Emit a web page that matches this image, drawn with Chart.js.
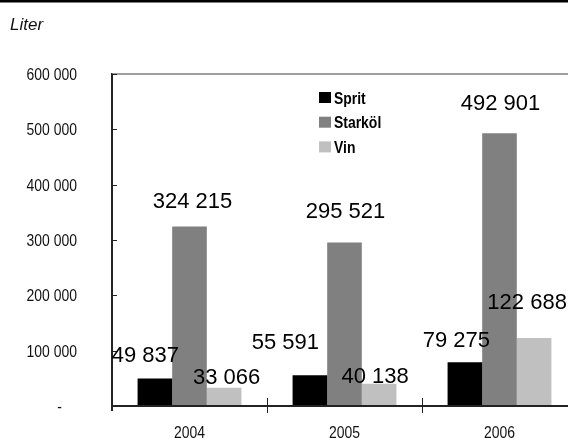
<!DOCTYPE html>
<html>
<head>
<meta charset="utf-8">
<script src="https://cdn.jsdelivr.net/npm/chart.js@4/dist/chart.umd.min.js"></script>
<style>
  html, body { margin: 0; padding: 0; background: #fff; overflow: hidden; }
  canvas { display: block; }
</style>
</head>
<body>
<canvas id="c" width="568" height="438"></canvas>
<script>
// Sales volume in litres per product group and year
const years = ['2004', '2005', '2006'];
const sprit = [49837, 55591, 79275];
const starkol = [324215, 295521, 492901];
const vin = [33066, 40138, 122688];
const seriesNames = ['Sprit', 'Starköl', 'Vin'];
const seriesColors = ['#000000', '#808080', '#c0c0c0'];
const unitLabel = 'Liter';

// Hand-placed value label offsets (px from the top centre of each bar), per series then year
const labelOffsets = [
  [[-9.5, -24], [-24.5, -34.5], [-8.5, -23]],
  [[3, -27], [1, -32.5], [1, -31]],
  [[2.5, -11.5], [-4, -8.5], [-7, -37]]
];

const REGULAR = "'Liberation Sans', Arial, sans-serif";
const NARROW_X = 0.82;      // horizontal squeeze giving a narrow grotesque look
const CATEGORY_WIDTH = 155; // plot runs past the right edge of the page

function spaced(v) {
  return String(Math.round(v)).replace(/\B(?=(\d{3})+(?!\d))/g, ' ');
}

// draw text compressed horizontally, anchored at (x, y)
function narrowText(ctx, text, x, y, align) {
  ctx.save();
  ctx.translate(x, y);
  ctx.scale(NARROW_X, 1);
  ctx.textAlign = align;
  ctx.fillText(text, 0, 0);
  ctx.restore();
}

// widen the plot area so the last category continues beyond the canvas edge
const widen = {
  id: 'widen',
  afterLayout(chart) {
    const x = chart.scales.x;
    const right = x.left + CATEGORY_WIDTH * years.length;
    x.right = right;
    x.width = right - x.left;
    x.configure();
    chart.chartArea.right = right;
    chart.chartArea.width = right - chart.chartArea.left;
  }
};

const decor = {
  id: 'decor',
  beforeDraw(chart) {
    const ctx = chart.ctx;
    ctx.save();
    // heavy rule at the top of the page
    ctx.fillStyle = '#000';
    ctx.fillRect(0, 0, chart.width, 2.5);
    // unit caption
    ctx.font = 'italic 17px ' + REGULAR;
    ctx.fillStyle = '#111';
    ctx.textBaseline = 'alphabetic';
    ctx.textAlign = 'left';
    ctx.fillText(unitLabel, 10, 30);
    ctx.restore();
  },
  afterDraw(chart) {
    const ctx = chart.ctx;
    const a = chart.chartArea;
    const x = chart.scales.x, y = chart.scales.y;
    ctx.save();
    // top frame line
    ctx.strokeStyle = '#808080';
    ctx.lineWidth = 1.5;
    ctx.beginPath();
    ctx.moveTo(a.left, a.top);
    ctx.lineTo(a.right, a.top);
    ctx.stroke();
    // x axis line across the full plot width
    ctx.strokeStyle = '#222';
    ctx.lineWidth = 2;
    ctx.beginPath();
    ctx.moveTo(a.left, a.bottom);
    ctx.lineTo(a.right, a.bottom);
    ctx.stroke();
    // inward tick marks on the value axis
    ctx.lineWidth = 1;
    y.ticks.forEach(t => {
      const py = Math.round(y.getPixelForValue(t.value)) + 0.5;
      ctx.beginPath();
      ctx.moveTo(a.left, py);
      ctx.lineTo(a.left + 5, py);
      ctx.stroke();
    });
    // value axis runs a little past the baseline
    ctx.lineWidth = 2;
    ctx.beginPath();
    ctx.moveTo(a.left, a.bottom);
    ctx.lineTo(a.left, a.bottom + 5);
    ctx.stroke();
    // crossing tick marks between categories
    ctx.lineWidth = 1;
    for (let i = 0; i < years.length; i++) {
      const bx = Math.round((x.getPixelForValue(i) + x.getPixelForValue(i + 1)) / 2) + 0.5;
      ctx.beginPath();
      ctx.moveTo(bx, a.bottom - 8);
      ctx.lineTo(bx, a.bottom + 7);
      ctx.stroke();
    }

    // value axis labels
    ctx.fillStyle = '#111';
    ctx.font = '17px ' + REGULAR;
    ctx.textBaseline = 'alphabetic';
    y.ticks.forEach(t => {
      const py = y.getPixelForValue(t.value);
      const txt = t.value === 0 ? '-' : spaced(t.value);
      const rx = t.value === 0 ? 62 : 77;
      narrowText(ctx, txt, rx, py + 6, 'right');
    });
    // category labels
    years.forEach((lab, i) => {
      narrowText(ctx, lab, x.getPixelForValue(i), a.bottom + 32, 'center');
    });

    // value labels
    ctx.font = '22px ' + REGULAR;
    ctx.fillStyle = '#000';
    ctx.textAlign = 'center';
    chart.data.datasets.forEach((ds, di) => {
      const meta = chart.getDatasetMeta(di);
      meta.data.forEach((bar, i) => {
        const off = labelOffsets[di][i];
        ctx.fillText(spaced(ds.data[i]), bar.x + off[0], bar.y + off[1] + 8);
      });
    });

    // legend
    ctx.font = 'bold 17px ' + REGULAR;
    chart.data.datasets.forEach((ds, di) => {
      const cy = 97.5 + di * 24.7;
      ctx.fillStyle = ds.backgroundColor;
      ctx.fillRect(319, cy - 5.5, 12, 11);
      ctx.fillStyle = '#000';
      narrowText(ctx, ds.label, 334, cy + 6, 'left');
    });
    ctx.restore();
  }
};

const datasets = [sprit, starkol, vin].map((vals, i) => ({
  label: seriesNames[i],
  data: vals,
  backgroundColor: seriesColors[i],
  borderWidth: 0,
  categoryPercentage: 0.67,
  barPercentage: 1.0
}));

new Chart(document.getElementById('c'), {
  type: 'bar',
  data: { labels: years, datasets },
  options: {
    responsive: false,
    maintainAspectRatio: false,
    devicePixelRatio: 1,
    animation: false,
    layout: { padding: { top: 74, right: 0, left: 0, bottom: 0 } },
    plugins: { legend: { display: false }, tooltip: { enabled: false } },
    scales: {
      x: {
        grid: { display: false },
        border: { display: false },
        ticks: { display: false },
        afterFit(s) { s.height = 32; }
      },
      y: {
        min: 0,
        max: 600000,
        grid: { display: false },
        border: { display: true, color: '#222', width: 2 },
        ticks: { display: false, stepSize: 100000 },
        afterFit(s) { s.width = 112; }
      }
    }
  },
  plugins: [widen, decor]
});
</script>
</body>
</html>
